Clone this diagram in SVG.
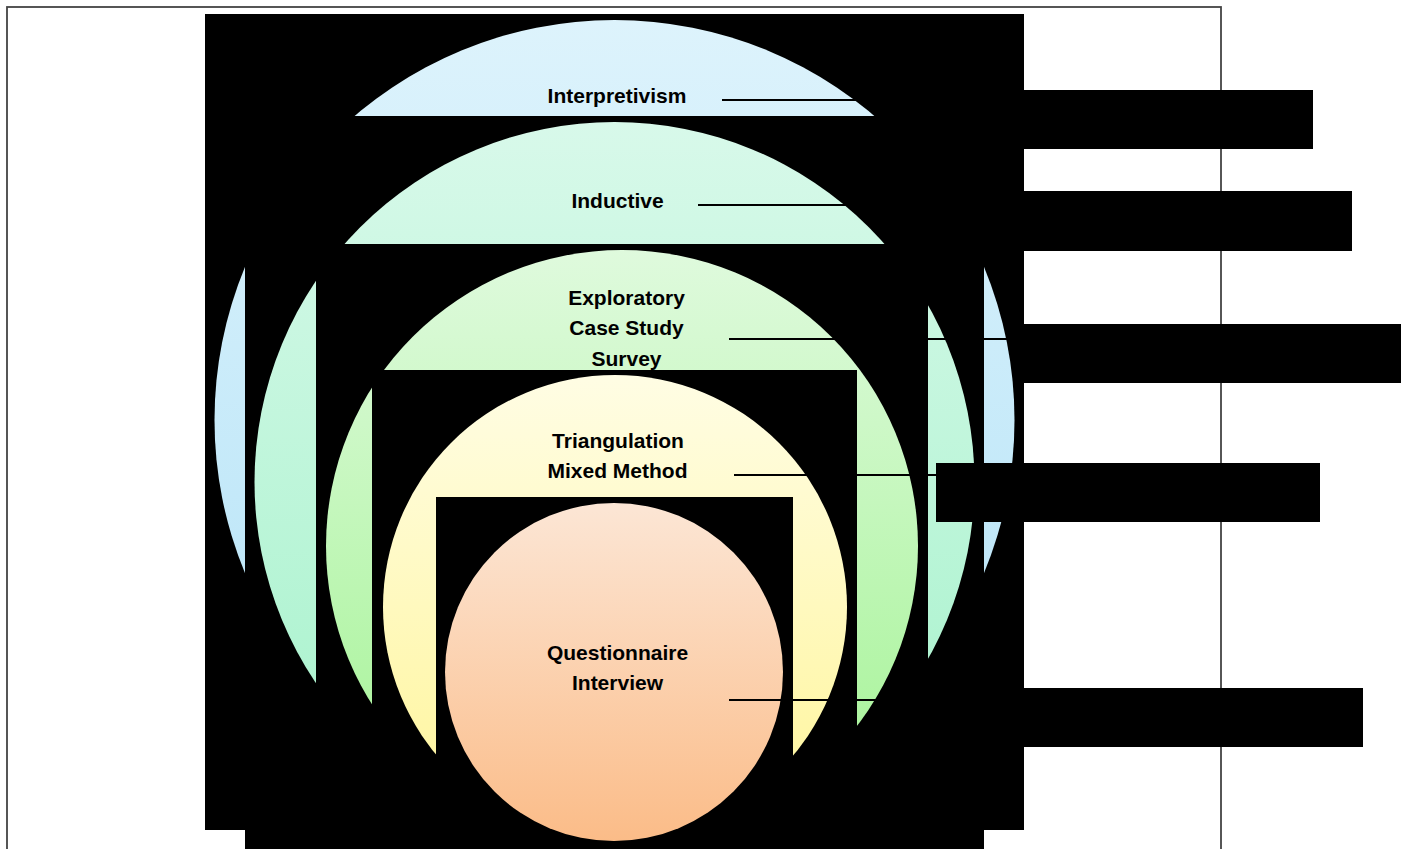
<svg xmlns="http://www.w3.org/2000/svg" width="1401" height="849" viewBox="0 0 1401 849">
  <style>
    .blk { fill: #000000; }
    .lbl { font-family: "Liberation Sans", Arial, sans-serif; font-size: 21px; font-weight: bold; fill: #000000; text-anchor: middle; }
    .conn { stroke: #000000; stroke-width: 1.8; fill: none; }
  </style>
  <defs>
    <linearGradient id="g1" x1="0" y1="0" x2="0" y2="1">
      <stop offset="0" stop-color="#DDF3FC"/>
      <stop offset="1" stop-color="#B3E2F7"/>
    </linearGradient>
    <linearGradient id="g2" x1="0" y1="0" x2="0" y2="1">
      <stop offset="0" stop-color="#D8F9EA"/>
      <stop offset="1" stop-color="#A4F2CA"/>
    </linearGradient>
    <linearGradient id="g3" x1="0" y1="0" x2="0" y2="1">
      <stop offset="0" stop-color="#DFFADD"/>
      <stop offset="1" stop-color="#A2F392"/>
    </linearGradient>
    <linearGradient id="g4" x1="0" y1="0" x2="0" y2="1">
      <stop offset="0" stop-color="#FFFDE4"/>
      <stop offset="1" stop-color="#FFF598"/>
    </linearGradient>
    <linearGradient id="g5" x1="0" y1="0" x2="0" y2="1">
      <stop offset="0" stop-color="#FCE6D5"/>
      <stop offset="1" stop-color="#FBBC88"/>
    </linearGradient>
  </defs>

  <rect width="1401" height="849" fill="#ffffff"/>
  <rect id="frame" x="7" y="7" width="1214" height="860" fill="none" stroke="#444444" stroke-width="1.8"/>

  <g id="node-interpretivism">
    <rect class="blk" x="205" y="14" width="819" height="816"/>
    <circle cx="614.5" cy="420" r="400" fill="url(#g1)"/>
    <text class="lbl" x="617" y="103">Interpretivism</text>
  </g>

  <g id="node-inductive">
    <rect class="blk" x="245" y="116" width="739" height="760"/>
    <circle cx="614.5" cy="482" r="360" fill="url(#g2)"/>
    <text class="lbl" x="617.5" y="208">Inductive</text>
  </g>

  <g id="node-exploratory">
    <rect class="blk" x="316" y="244" width="612" height="640"/>
    <circle cx="622" cy="546" r="296" fill="url(#g3)"/>
    <text class="lbl" x="626.5" y="305">Exploratory</text>
    <text class="lbl" x="626.5" y="335">Case Study</text>
    <text class="lbl" x="626.5" y="366">Survey</text>
  </g>

  <g id="node-triangulation">
    <rect class="blk" x="372" y="370" width="485" height="500"/>
    <circle cx="615" cy="607" r="232" fill="url(#g4)"/>
    <text class="lbl" x="618" y="448">Triangulation</text>
    <text class="lbl" x="617.5" y="478">Mixed Method</text>
  </g>

  <g id="node-questionnaire">
    <rect class="blk" x="436" y="497" width="357" height="370"/>
    <circle cx="614" cy="672" r="169" fill="url(#g5)"/>
    <text class="lbl" x="617.5" y="660">Questionnaire</text>
    <text class="lbl" x="617.5" y="690">Interview</text>
  </g>

  <g id="connectors">
    <line class="conn" x1="722" y1="100" x2="1024" y2="100"/>
    <line class="conn" x1="698" y1="205" x2="1024" y2="205"/>
    <line class="conn" x1="729" y1="339" x2="1024" y2="339"/>
    <line class="conn" x1="734" y1="475" x2="936" y2="475"/>
    <line class="conn" x1="729" y1="700" x2="1024" y2="700"/>
  </g>

  <g id="label-box-1"><rect class="blk" x="1024" y="90" width="289" height="59"/></g>
  <g id="label-box-2"><rect class="blk" x="1024" y="191" width="328" height="60"/></g>
  <g id="label-box-3"><rect class="blk" x="1024" y="324" width="377" height="59"/></g>
  <g id="label-box-4"><rect class="blk" x="936" y="463" width="384" height="59"/></g>
  <g id="label-box-5"><rect class="blk" x="1024" y="688" width="339" height="59"/></g>
</svg>
